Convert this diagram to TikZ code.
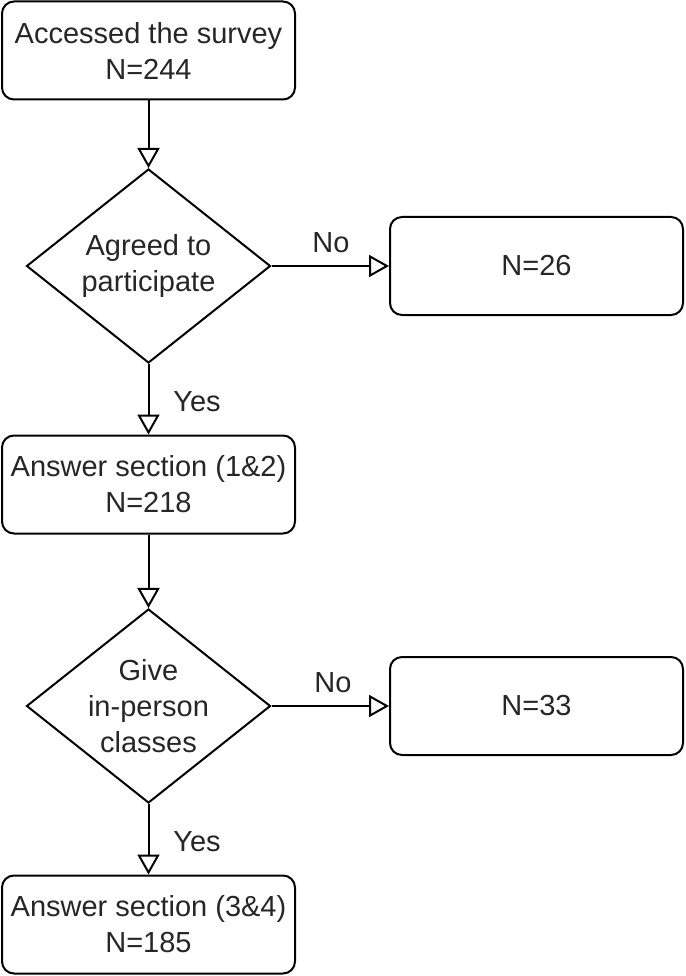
\documentclass[tikz,border=0pt]{standalone}
\usepackage{fontspec}
\setmainfont{Liberation Sans}
\usetikzlibrary{arrows.meta,shapes.geometric}
\tikzset{box/.style={draw,rounded corners=12pt,align=center,line width=2pt,minimum width=293pt,minimum height=98pt,
  inner sep=2pt,text=black!85,font=\fontsize{29}{36}\selectfont},
  decision/.style={box,diamond,rounded corners=0pt,minimum width=244pt,minimum height=194pt,aspect=1.26,inner sep=-3pt},
  lbl/.style={text=black!85,font=\fontsize{29}{36}\selectfont},
  arr/.style={-{Triangle[open,length=20pt,width=22pt]},line width=2pt}}
\begin{document}
\begin{tikzpicture}[x=1pt,y=-1pt]
\useasboundingbox (0,0) rectangle (685,976);
% left column
\node[box] (access) at (148.5,50.5) {Accessed the survey\\N=244};
\node[decision] (agree) at (148.5,266) {Agreed to\\participate};
\node[box] (ans12) at (148.5,484.5) {Answer section (1\&2)\\N=218};
\node[decision] (inperson) at (148.5,706) {Give\\in-person\\classes};
\node[box] (ans34) at (148.5,924.5) {Answer section (3\&4)\\N=185};
% excluded
\node[box] (excl26) at (536.5,266) {N=26};
\node[box] (excl33) at (536.5,706) {N=33};
% connectors
\draw[arr] (access) -- (agree);
\draw[arr] (agree) -- (excl26);
\draw[arr] (agree) -- (ans12);
\draw[arr] (ans12) -- (inperson);
\draw[arr] (inperson) -- (excl33);
\draw[arr] (inperson) -- (ans34);
\node[lbl] (no1) at (331,243) {No};
\node[lbl] (yes1) at (197,402) {Yes};
\node[lbl] (no2) at (333,683) {No};
\node[lbl] (yes2) at (197,842) {Yes};
\end{tikzpicture}
\end{document}
